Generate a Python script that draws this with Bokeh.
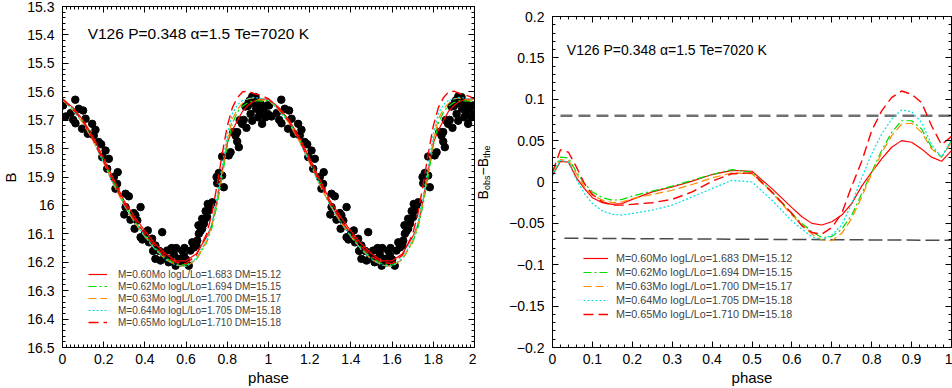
import math
from bokeh.plotting import figure
from bokeh.models import (Range1d, LinearAxis, SingleIntervalTicker, CustomJSTickFormatter,
                          Label, Legend, LegendItem)
from bokeh.layouts import row
from bokeh.embed import file_html
from bokeh.resources import INLINE

FONT = "Liberation Sans"

# ---------------- data ----------------
obs_phase = [0.003, 0.015, 0.040, 0.052, 0.062, 0.063, 0.079, 0.095, 0.100, 0.112, 0.123, 0.144, 0.152,
             0.160, 0.176, 0.188, 0.193, 0.209, 0.217, 0.225, 0.249, 0.257, 0.265, 0.268, 0.300, 0.306,
             0.306, 0.322, 0.330, 0.346, 0.350, 0.354, 0.363, 0.379, 0.379, 0.388, 0.400, 0.414, 0.420,
             0.435, 0.440, 0.451, 0.451, 0.470, 0.476, 0.484, 0.492, 0.500, 0.508, 0.515, 0.524, 0.530,
             0.540, 0.549, 0.552, 0.565, 0.575, 0.581, 0.589, 0.592, 0.600, 0.613, 0.621, 0.630, 0.638,
             0.650, 0.654, 0.660, 0.662, 0.670, 0.678, 0.678, 0.686, 0.690, 0.695, 0.702, 0.705, 0.710,
             0.718, 0.727, 0.748, 0.751, 0.759, 0.775, 0.775, 0.783, 0.807, 0.816, 0.829, 0.840, 0.848,
             0.848, 0.856, 0.860, 0.872, 0.880, 0.888, 0.893, 0.900, 0.904, 0.910, 0.913, 0.921, 0.921,
             0.930, 0.937, 0.940, 0.950, 0.955, 0.958, 0.961, 0.969, 0.975, 0.985, 0.994, 0.997]
obs_B = [15.648, 15.687, 15.675, 15.699, 15.628, 15.711, 15.660, 15.730, 15.666, 15.695, 15.748, 15.713, 15.754,
         15.734, 15.777, 15.785, 15.830, 15.807, 15.871, 15.836, 15.900, 15.941, 15.924, 15.883, 16.032, 15.959,
         16.006, 15.968, 16.050, 16.027, 16.082, 16.035, 16.053, 16.006, 16.112, 16.120, 16.100, 16.088, 16.130,
         16.117, 16.160, 16.141, 16.188, 16.160, 16.194, 16.094, 16.170, 16.185, 16.159, 16.200, 16.188, 16.150,
         16.170, 16.212, 16.150, 16.188, 16.200, 16.159, 16.176, 16.150, 16.190, 16.212, 16.159, 16.130, 16.148,
         16.140, 16.124, 16.070, 16.100, 16.090, 16.082, 16.047, 16.065, 16.050, 16.020, 16.041, 15.995, 16.018,
         16.000, 15.989, 15.900, 15.922, 15.886, 15.895, 15.828, 15.936, 15.824, 15.813, 15.742, 15.754, 15.775,
         15.742, 15.795, 15.700, 15.713, 15.699, 15.652, 15.727, 15.650, 15.637, 15.630, 15.678, 15.702, 15.617,
         15.640, 15.619, 15.660, 15.690, 15.650, 15.678, 15.642, 15.713, 15.660, 15.690, 15.648, 15.678]

model_labels = ["M=0.60Mo logL/Lo=1.683 DM=15.12",
                "M=0.62Mo logL/Lo=1.694 DM=15.15",
                "M=0.63Mo logL/Lo=1.700 DM=15.17",
                "M=0.64Mo logL/Lo=1.705 DM=15.18",
                "M=0.65Mo logL/Lo=1.710 DM=15.18"]
model_colors = ["#ff0000", "#00dd00", "#ff8a00", "#00e0e0", "#ff0000"]
model_dashes = ["solid", "8 3 2 3", "8 4", "2 2", "10 5"]
model_widths = [1.2, 1.2, 1.2, 1.2, 1.4]

lc_phase = [0.0, 0.05, 0.1, 0.15, 0.2, 0.25, 0.3, 0.35, 0.4, 0.45, 0.5, 0.55, 0.6, 0.65, 0.7,
            0.725, 0.75, 0.775, 0.8, 0.825, 0.85, 0.875, 0.9, 0.925, 0.95, 0.975, 1.0]
lc_060 = [15.625, 15.655, 15.700, 15.760, 15.835, 15.910, 15.985, 16.040, 16.090, 16.135, 16.170, 16.195, 16.195,
          16.170, 16.110, 16.070, 15.985, 15.880, 15.780, 15.735, 15.700, 15.668, 15.648, 15.635, 15.628, 15.626, 15.625]
lc_062 = [15.630, 15.660, 15.705, 15.770, 15.845, 15.920, 15.995, 16.055, 16.105, 16.150, 16.185, 16.205, 16.210,
          16.190, 16.130, 16.080, 16.000, 15.900, 15.790, 15.710, 15.670, 15.650, 15.638, 15.632, 15.632, 15.633, 15.630]
lc_063 = [15.628, 15.665, 15.710, 15.775, 15.850, 15.930, 16.000, 16.060, 16.110, 16.155, 16.190, 16.210, 16.215,
          16.190, 16.125, 16.070, 15.985, 15.880, 15.770, 15.695, 15.660, 15.640, 15.625, 15.622, 15.628, 15.630, 15.628]
lc_064 = [15.628, 15.665, 15.710, 15.775, 15.850, 15.930, 16.000, 16.060, 16.110, 16.155, 16.190, 16.210, 16.215,
          16.185, 16.120, 16.060, 15.970, 15.860, 15.750, 15.675, 15.645, 15.630, 15.625, 15.620, 15.622, 15.625, 15.628]
lc_065 = [15.625, 15.660, 15.705, 15.770, 15.845, 15.920, 15.995, 16.050, 16.100, 16.145, 16.180, 16.200, 16.205,
          16.175, 16.100, 16.030, 15.930, 15.820, 15.720, 15.655, 15.620, 15.600, 15.598, 15.606, 15.610, 15.616, 15.625]

res_phase = [0.0, 0.02, 0.04, 0.06, 0.08, 0.1, 0.125, 0.15, 0.175, 0.2, 0.25, 0.3, 0.35, 0.4, 0.45, 0.5, 0.55,
             0.6, 0.625, 0.65, 0.675, 0.7, 0.725, 0.75, 0.775, 0.8, 0.825, 0.85, 0.875, 0.9, 0.925, 0.95, 0.975, 1.0]
res_060 = [0.008, 0.025, 0.024, 0.005, -0.008, -0.019, -0.025, -0.027, -0.026, -0.021, -0.012, -0.006, 0.001,
           0.009, 0.014, 0.013, -0.008, -0.031, -0.042, -0.050, -0.052, -0.048, -0.040, -0.026, -0.005, 0.012,
           0.028, 0.042, 0.050, 0.048, 0.040, 0.030, 0.025, 0.038]
res_062 = [0.012, 0.030, 0.029, 0.012, -0.002, -0.012, -0.019, -0.022, -0.021, -0.017, -0.011, -0.005, 0.002,
           0.009, 0.015, 0.012, -0.012, -0.038, -0.050, -0.060, -0.067, -0.066, -0.057, -0.040, -0.014, 0.012,
           0.038, 0.060, 0.074, 0.074, 0.064, 0.042, 0.030, 0.050]
res_063 = [0.010, 0.027, 0.026, 0.010, -0.006, -0.016, -0.022, -0.025, -0.024, -0.020, -0.015, -0.010, -0.003,
           0.005, 0.011, 0.010, -0.013, -0.040, -0.052, -0.063, -0.070, -0.071, -0.062, -0.044, -0.018, 0.010,
           0.035, 0.056, 0.070, 0.071, 0.060, 0.040, 0.030, 0.048]
res_064 = [0.008, 0.026, 0.024, 0.003, -0.014, -0.026, -0.035, -0.039, -0.040, -0.038, -0.034, -0.028, -0.018,
           -0.008, 0.002, 0.000, -0.022, -0.047, -0.057, -0.066, -0.070, -0.064, -0.052, -0.026, 0.005, 0.034,
           0.058, 0.076, 0.087, 0.085, 0.072, 0.045, 0.030, 0.050]
res_065 = [0.012, 0.039, 0.036, 0.018, -0.002, -0.015, -0.024, -0.028, -0.028, -0.027, -0.025, -0.021, -0.012,
           0.001, 0.010, 0.011, -0.012, -0.038, -0.053, -0.061, -0.063, -0.055, -0.038, -0.005, 0.025, 0.062,
           0.086, 0.102, 0.110, 0.106, 0.096, 0.068, 0.045, 0.055]

upper_x = [0.02, 1.0]
upper_y = [0.08, 0.08]
lower_x = [0.03, 1.0]
lower_y = [-0.068, -0.0705]

title_left = "V126 P=0.348  \u03b1=1.5 Te=7020 K"
title_right = "V126 P=0.348 \u03b1=1.5 Te=7020 K"

lc_models = [lc_060, lc_062, lc_063, lc_064, lc_065]
res_models = [res_060, res_062, res_063, res_064, res_065]

H = 388

# ---------------- helpers ----------------
FMT = CustomJSTickFormatter(code="""
const v = Math.round(tick * 1000) / 1000;
if (v == 0) return "0";
return (v < 0 ? "\\u2212" : "") + Math.abs(v).toString();
""")


def style_axis(ax, interval, nminor, labels=True, standoff=6):
    ax.ticker = SingleIntervalTicker(interval=interval, num_minor_ticks=nminor)
    ax.formatter = FMT
    ax.axis_line_color = "black"
    ax.axis_line_width = 1
    ax.major_tick_line_color = "black"
    ax.minor_tick_line_color = "black"
    ax.major_tick_in = 6
    ax.major_tick_out = 0
    ax.minor_tick_in = 3
    ax.minor_tick_out = 0
    ax.major_label_text_font = FONT
    if labels:
        ax.major_label_text_color = "black"
        ax.major_label_text_font_size = "14px"
        ax.major_label_standoff = standoff
    else:
        ax.major_label_text_color = None
        ax.major_label_text_font_size = "0px"
        ax.major_label_standoff = 0
    ax.axis_label_text_font = FONT
    ax.axis_label_text_font_style = "normal"
    ax.axis_label_text_color = "black"
    ax.axis_label_text_font_size = "15px"


def add_mirror_axes(p, xint, xminor, yint, yminor):
    top = LinearAxis()
    style_axis(top, xint, xminor, labels=False)
    p.add_layout(top, "above")
    right = LinearAxis()
    style_axis(right, yint, yminor, labels=False)
    p.add_layout(right, "right")


def lbl(x, y, text, size, angle=0.0, align="left", baseline="middle", xo=0, yo=0):
    return Label(x=x, y=y, text=text, text_font=FONT, text_font_size=size, angle=angle,
                 text_align=align, text_baseline=baseline, x_offset=xo, y_offset=yo,
                 text_color="black")


def strip(width):
    s = figure(width=width, height=H, x_range=Range1d(0, width), y_range=Range1d(0, H),
               output_backend="svg", toolbar_location=None,
               x_axis_location=None, y_axis_location=None, frame_align=False,
               min_border_left=0, min_border_right=0, min_border_top=0, min_border_bottom=0)
    s.grid.visible = False
    s.outline_line_color = None
    return s


# ---------------- strip with the left y title ----------------
pb = strip(20)
pb.add_layout(lbl(9.5, H - 177, "B", "15px", angle=math.pi / 2, align="center"))

# ---------------- left panel ----------------
p1 = figure(width=456, height=H, x_range=Range1d(0, 2), y_range=Range1d(16.5, 15.3),
            output_backend="svg", toolbar_location=None, frame_align=False,
            min_border_left=42, min_border_right=2, min_border_top=6, min_border_bottom=41)
p1.grid.visible = False
p1.outline_line_color = "black"
style_axis(p1.xaxis[0], 0.2, 10, standoff=6)
style_axis(p1.yaxis[0], 0.1, 5, standoff=8)
p1.xaxis[0].axis_label = "phase"
p1.xaxis[0].axis_label_standoff = 2
add_mirror_axes(p1, 0.2, 10, 0.1, 5)

ph2 = obs_phase + [v + 1 for v in obs_phase]
b2 = obs_B + obs_B
p1.scatter(ph2, b2, size=7.5, color="black", marker="circle")

items1 = []
lc_x = lc_phase + [v + 1 for v in lc_phase]
for lab, col, dash, w, ys in zip(model_labels, model_colors, model_dashes, model_widths, lc_models):
    r = p1.line(lc_x, ys + ys, line_color=col, line_dash=dash, line_width=w)
    items1.append(LegendItem(label=lab, renderers=[r]))

leg1 = Legend(items=items1, location=(26, 19), margin=0, padding=0, spacing=0,
              glyph_width=19, glyph_height=12, label_height=12, label_standoff=11,
              label_text_font=FONT, label_text_font_size="10px",
              border_line_color=None, background_fill_alpha=0)
p1.add_layout(leg1)
p1.add_layout(lbl(0.122, 15.395, title_left, "15.5px"))

# ---------------- strip with the right y title ----------------
py = strip(20)
ax_x = 6
ax_y = H - 199
py.add_layout(lbl(ax_x, ax_y, "B", "14px", angle=math.pi / 2))
py.add_layout(lbl(ax_x, ax_y, "obs", "9px", angle=math.pi / 2, xo=4, yo=9.5))
py.add_layout(lbl(ax_x, ax_y, "\u2212B", "14px", angle=math.pi / 2, yo=24))
py.add_layout(lbl(ax_x, ax_y, "the", "9px", angle=math.pi / 2, xo=4, yo=41.5))

# ---------------- right panel ----------------
p2 = figure(width=456, height=H, x_range=Range1d(0, 1), y_range=Range1d(-0.2, 0.2),
            output_backend="svg", toolbar_location=None, frame_align=False,
            min_border_left=56, min_border_right=1, min_border_top=16, min_border_bottom=40)
p2.grid.visible = False
p2.outline_line_color = "black"
style_axis(p2.xaxis[0], 0.1, 5, standoff=6)
style_axis(p2.yaxis[0], 0.05, 5, standoff=8)
p2.xaxis[0].axis_label = "phase"
p2.xaxis[0].axis_label_standoff = 2
add_mirror_axes(p2, 0.1, 5, 0.05, 5)

p2.line(upper_x, upper_y, line_color="#707070", line_width=2.5, line_dash="12 6")
p2.line(lower_x, lower_y, line_color="#4a4a4a", line_width=1.5, line_dash="14 5")

items2 = []
for lab, col, dash, w, ys in zip(model_labels, model_colors, model_dashes, model_widths, res_models):
    r = p2.line(res_phase, ys, line_color=col, line_dash=dash, line_width=w)
    items2.append(LegendItem(label=lab, renderers=[r]))

leg2 = Legend(items=items2, location=(31, 26), margin=0, padding=0, spacing=0,
              glyph_width=25, glyph_height=14, label_height=14, label_standoff=8,
              label_text_font=FONT, label_text_font_size="10.8px",
              border_line_color=None, background_fill_alpha=0)
p2.add_layout(leg2)
p2.add_layout(lbl(0.036, 0.16, title_right, "14px"))

layout = row(pb, p1, py, p2)
open("out.html", "w").write(file_html(layout, INLINE))
